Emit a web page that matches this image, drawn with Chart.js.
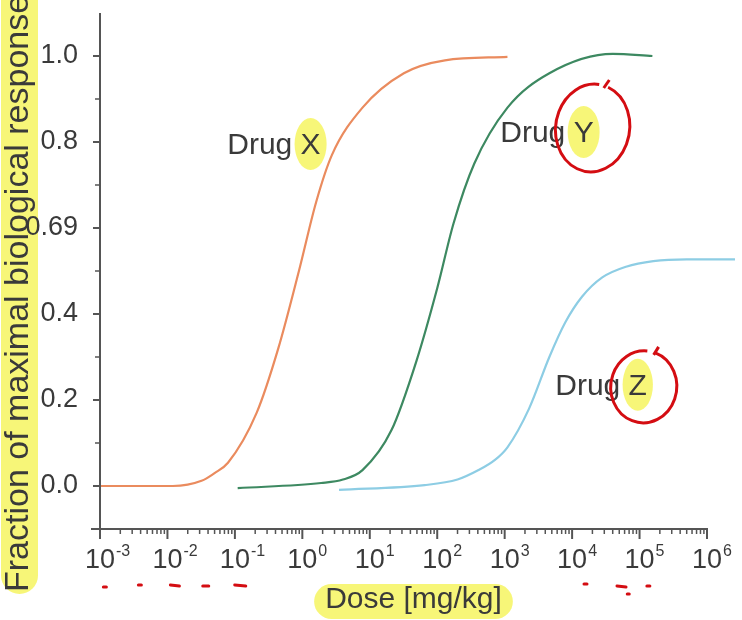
<!DOCTYPE html>
<html>
<head>
<meta charset="utf-8">
<script src="https://cdn.jsdelivr.net/npm/chart.js@4/dist/chart.umd.min.js"></script>
<style>
html, body { margin: 0; padding: 0; background: #fff; }
#wrap { width: 742px; height: 620px; }
</style>
</head>
<body>
<div id="wrap"><canvas id="chart" width="742" height="620"></canvas></div>
<script>
/* ---------- data ---------- */
const DOSE_X = [0.001, 0.012, 0.032, 0.05, 0.079, 0.21, 0.44, 0.89, 1.6, 2.75, 7.8, 32, 130, 1100];
const RESP_X = [0, 0, 0.012, 0.03, 0.054, 0.17, 0.32, 0.50, 0.66, 0.77, 0.88, 0.96, 0.99, 0.998];

const DOSE_Y = [0.11, 1.9, 4, 7.8, 21, 49, 100, 174, 355, 1100, 4600, 40000, 155000];
const RESP_Y = [-0.005, 0.007, 0.015, 0.037, 0.13, 0.29, 0.46, 0.61, 0.75, 0.88, 0.96, 1.005, 1.0];

const DOSE_Z = [3.5, 65, 200, 410, 710, 1100, 2300, 4600, 7900, 14000, 28000, 63000, 160000, 500000, 2600000];
const RESP_Z = [-0.009, 0.002, 0.015, 0.037, 0.06, 0.09, 0.18, 0.30, 0.38, 0.44, 0.485, 0.51, 0.523, 0.527, 0.527];

const DRUG_NAMES = ['X', 'Y', 'Z'];
const LABEL_DOSE = [0.077, 861, 5620];
const LABEL_RESP = [0.772, 0.80, 0.212];

const Y_TICKS = [0, 0.2, 0.4, 0.6, 0.8, 1.0];
const Y_LABELS = ['0.0', '0.2', '0.4', '0.69', '0.8', '1.0'];
const X_POWERS = [-3, -2, -1, 0, 1, 2, 3, 4, 5, 6];

const X_TITLE = 'Dose [mg/kg]';
const Y_TITLE = 'Fraction of maximal biological response';

/* hand-drawn red marks under the axis labels: dose, px below axis, length */
const RED_DOSE = [0.00118, 0.0039, 0.0129, 0.037, 0.12, 15800, 54000, 68000, 135000];
const RED_DROP = [58, 56, 56, 57, 56, 55, 57, 65, 57];
const RED_LEN = [3, 3, 9, 6, 11, 3, 9, 2, 3];

/* ---------- style ---------- */
const FONT = '"Liberation Sans", Arial, sans-serif';
const TXT = '#3a3a3a';
const AXIS = '#555';
const ORANGE = '#ea8b5e';
const GREEN = '#3d8961';
const CYAN = '#8dcde4';
const HILITE = 'rgba(246, 244, 96, 0.85)';
const RED = '#d40d12';

const pts = (xs, ys) => xs.map((x, i) => ({ x, y: ys[i] }));

function pill(ctx, x, y, w, h) {
    const r = Math.min(w, h) / 2;
    ctx.beginPath();
    ctx.moveTo(x + r, y);
    ctx.arcTo(x + w, y, x + w, y + h, r);
    ctx.arcTo(x + w, y + h, x, y + h, r);
    ctx.arcTo(x, y + h, x, y, r);
    ctx.arcTo(x, y, x + w, y, r);
    ctx.closePath();
    ctx.fill();
}

/* ---------- axes, labels and annotations ---------- */
const decor = {
    id: 'decor',
    beforeDraw(chart) {
        const { ctx, scales: { x, y } } = chart;
        ctx.save();
        ctx.fillStyle = HILITE;
        // y title band
        pill(ctx, 1, -20, 37, 614);
        // x title band
        ctx.font = '30px ' + FONT;
        const tw = ctx.measureText(X_TITLE).width;
        const cx = (chart.chartArea.left + chart.chartArea.right) / 2 + 10;
        pill(ctx, cx - tw / 2 - 11, chart.chartArea.bottom + 55, tw + 22, 35);
        // letter highlights
        DRUG_NAMES.forEach((n, i) => {
            const px = x.getPixelForValue(LABEL_DOSE[i]);
            const py = y.getPixelForValue(LABEL_RESP[i]);
            const pre = ctx.measureText('Drug ').width;
            const lw = ctx.measureText(n).width;
            ctx.beginPath();
            ctx.ellipse(px + pre + lw / 2, py - 10, lw / 2 + 6, 26, 0, 0, Math.PI * 2);
            ctx.fill();
        });
        ctx.restore();
    },
    afterDraw(chart) {
        const { ctx, chartArea: a, scales: { x, y } } = chart;
        ctx.save();
        ctx.strokeStyle = AXIS;
        ctx.lineCap = 'butt';

        // axis lines
        ctx.lineWidth = 2;
        ctx.beginPath();
        ctx.moveTo(a.left, a.top); ctx.lineTo(a.left, a.bottom);
        ctx.moveTo(a.left - 9, a.bottom); ctx.lineTo(a.right + 1, a.bottom);
        ctx.stroke();

        // y ticks
        for (let v = 0; v <= 10; v++) {
            const py = Math.round(y.getPixelForValue(v / 10));
            const len = v % 2 === 0 ? 7 : 5;
            ctx.lineWidth = v % 2 === 0 ? 2 : 1.5;
            ctx.beginPath();
            ctx.moveTo(a.left - len, py); ctx.lineTo(a.left, py);
            ctx.stroke();
        }

        // x ticks
        X_POWERS.forEach(p => {
            const px = x.getPixelForValue(Math.pow(10, p));
            ctx.lineWidth = 2;
            ctx.beginPath();
            ctx.moveTo(px, a.bottom); ctx.lineTo(px, a.bottom + 10);
            ctx.stroke();
            if (p === 6) return;
            ctx.lineWidth = 1.5;
            for (let m = 2; m <= 9; m++) {
                const mx = x.getPixelForValue(m * Math.pow(10, p));
                ctx.beginPath();
                ctx.moveTo(mx, a.bottom); ctx.lineTo(mx, a.bottom + 5);
                ctx.stroke();
            }
        });

        // x tick labels 10^n
        ctx.fillStyle = TXT;
        ctx.textBaseline = 'alphabetic';
        ctx.textAlign = 'left';
        X_POWERS.forEach(p => {
            const px = x.getPixelForValue(Math.pow(10, p));
            ctx.font = '27px ' + FONT;
            const w = ctx.measureText('10').width;
            ctx.fillText('10', px - w / 2, a.bottom + 39);
            ctx.font = '16px ' + FONT;
            ctx.fillText(String(p), px + w / 2 + 1, a.bottom + 27);
        });

        // axis titles
        ctx.font = '30px ' + FONT;
        ctx.textAlign = 'center';
        ctx.fillText(X_TITLE, (a.left + a.right) / 2 + 10, a.bottom + 79);

        ctx.save();
        ctx.translate(19, 592);
        ctx.rotate(-Math.PI / 2);
        ctx.font = '34px ' + FONT;
        ctx.textAlign = 'left';
        ctx.textBaseline = 'middle';
        ctx.fillText(Y_TITLE, 0, 0);
        ctx.restore();

        // drug labels
        ctx.font = '30px ' + FONT;
        ctx.textAlign = 'left';
        ctx.textBaseline = 'alphabetic';
        DRUG_NAMES.forEach((n, i) => {
            ctx.fillText('Drug ' + n, x.getPixelForValue(LABEL_DOSE[i]), y.getPixelForValue(LABEL_RESP[i]));
        });

        // red circles round Y and Z
        ctx.strokeStyle = RED;
        ctx.lineWidth = 3;
        const pre = ctx.measureText('Drug ').width;
        [[1, 9, -4, 37, 44, 0.15], [2, 6, 2, 33, 36, 0.1]].forEach(([i, dx, dy, rx, ry, rot]) => {
            const lw = ctx.measureText(DRUG_NAMES[i]).width;
            const cx = x.getPixelForValue(LABEL_DOSE[i]) + pre + lw / 2 + dx;
            const cy = y.getPixelForValue(LABEL_RESP[i]) - 10 + dy;
            ctx.beginPath();
            ctx.ellipse(cx, cy, rx, ry, rot, -Math.PI * 0.42, Math.PI * 1.5);
            ctx.stroke();
            ctx.beginPath();
            ctx.moveTo(cx + rx * 0.3, cy - ry + 4);
            ctx.lineTo(cx + rx * 0.45, cy - ry - 4);
            ctx.stroke();
        });

        // red scribbles under the axis
        ctx.lineWidth = 3;
        ctx.lineCap = 'round';
        RED_DOSE.forEach((d, i) => {
            const px = x.getPixelForValue(d);
            const py = a.bottom + RED_DROP[i];
            ctx.beginPath();
            ctx.moveTo(px - RED_LEN[i] / 2, py);
            ctx.lineTo(px + RED_LEN[i] / 2, py + (RED_LEN[i] > 8 ? 1 : 0));
            ctx.stroke();
        });
        ctx.restore();
    }
};

/* ---------- chart ---------- */
const series = [
    { data: pts(DOSE_X, RESP_X), color: ORANGE },
    { data: pts(DOSE_Y, RESP_Y), color: GREEN },
    { data: pts(DOSE_Z, RESP_Z), color: CYAN }
];

new Chart(document.getElementById('chart').getContext('2d'), {
    type: 'line',
    data: {
        datasets: series.map((s, i) => ({
            label: 'Drug ' + DRUG_NAMES[i],
            data: s.data,
            borderColor: s.color,
            backgroundColor: 'transparent',
            borderWidth: 2.2,
            pointRadius: 0,
            cubicInterpolationMode: 'monotone',
            fill: false,
            clip: false
        }))
    },
    options: {
        responsive: false,
        animation: false,
        layout: { padding: { top: 13, right: 35, left: 0, bottom: 0 } },
        plugins: { legend: { display: false }, tooltip: { enabled: false } },
        scales: {
            x: {
                type: 'logarithmic',
                min: 1e-3,
                max: 1e6,
                grid: { display: false },
                border: { display: false },
                ticks: { display: false },
                afterFit(s) { s.height = 91; s.paddingLeft = 0; s.paddingRight = 0; }
            },
            y: {
                type: 'linear',
                min: -0.1,
                max: 1.1,
                grid: { display: false },
                border: { display: false },
                afterBuildTicks(s) { s.ticks = Y_TICKS.map(v => ({ value: v })); },
                ticks: {
                    callback: (v, i) => Y_LABELS[i],
                    font: { family: FONT, size: 27 },
                    color: TXT,
                    padding: 14
                },
                afterFit(s) { s.width = 100; s.paddingTop = 0; s.paddingBottom = 0; }
            }
        }
    },
    plugins: [decor]
});
</script>
</body>
</html>
